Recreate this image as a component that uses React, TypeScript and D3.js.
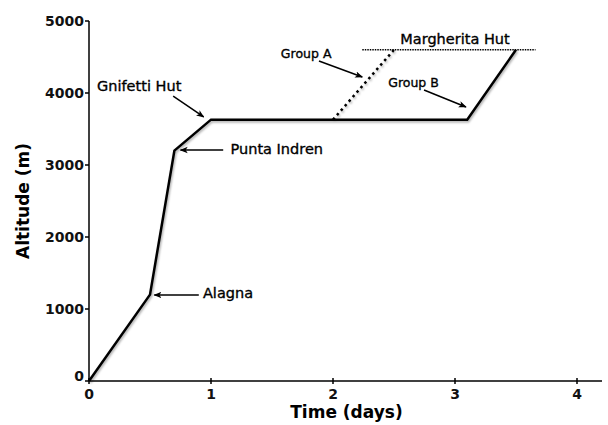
import React from 'react';
import * as d3 from 'd3';

// climb profile (days, metres)
const mainDays = [0, 0.5, 0.7, 1.0, 3.1, 3.5];
const mainAlt = [0, 1200, 3200, 3630, 3630, 4600];
// group A short-cut (dashed)
const groupADays = [2.0, 2.5];
const groupAAlt = [3630, 4600];
// Margherita Hut level (dotted)
const hutDays = [2.24, 3.66];
const hutAlt = [4600, 4600];

const xTicks = [0, 1, 2, 3, 4];
const yTicks = [0, 1000, 2000, 3000, 4000, 5000];

// labels: text anchor point and arrow from -> to (data units)
const labelText = ['Gnifetti Hut', 'Punta Indren', 'Alagna', 'Group A', 'Group B', 'Margherita Hut'];
const labelAt = [[0.066, 4097], [1.16, 3222], [0.934, 1222], [1.78, 4555], [2.66, 4153], [3.0, 4750]];
const labelAnchor = ['start', 'start', 'start', 'middle', 'middle', 'middle'];
const arrowFrom = [[0.69, 3958], [1.1, 3208], [0.9, 1194], [1.885, 4444], [2.746, 4042], null];
const arrowTo = [[0.94, 3667], [0.75, 3208], [0.535, 1194], [2.24, 4222], [3.09, 3806], null];

const W = 608, H = 425;
const margin = { left: 89, top: 21, right: 6, bottom: 44 };

export default function App() {
  const x = d3.scaleLinear().domain([0, 4]).range([margin.left, 577]);
  const y = d3.scaleLinear().domain([0, 5000]).range([H - margin.bottom, margin.top]);
  const xEnd = W - margin.right;

  const path = (days: number[], alt: number[]) =>
    d3.line<number>().x(d => x(d)).y((d, i) => y(alt[i]))(days) as string;

  const font = '"DejaVu Sans", Verdana, sans-serif';

  return (
    <svg width={W} height={H} style={{ position: 'absolute', left: 0, top: 0, background: '#fff' }}
      fontFamily={font}>
      <defs>
        <filter id="shadow" x="-10%" y="-10%" width="120%" height="120%">
          <feDropShadow dx="1" dy="1.5" stdDeviation="1" floodColor="#000" floodOpacity="0.35" />
        </filter>
        <marker id="arrow" viewBox="0 0 10 10" refX="9" refY="5" markerWidth="8" markerHeight="8"
          orient="auto" markerUnits="userSpaceOnUse">
          <path d="M0,1 L10,5 L0,9 L2.5,5 Z" fill="#000" />
        </marker>
      </defs>

      {/* axes */}
      <g stroke="#000" strokeWidth={1.5}>
        <line x1={x(0)} x2={x(0)} y1={y(0)} y2={y(5000)} />
        <line x1={x(0)} x2={xEnd} y1={y(0)} y2={y(0)} />
        {yTicks.map(t => (
          <line key={'yt' + t} x1={x(0) - 4} x2={x(0)} y1={y(t)} y2={y(t)} />
        ))}
        {xTicks.map(t => (
          <line key={'xt' + t} x1={x(t)} x2={x(t)} y1={y(0) - 3} y2={y(0) + 3} />
        ))}
      </g>
      <g fontSize={14} fontWeight="bold" fill="#111">
        {yTicks.map(t => (
          <text key={'yl' + t} x={x(0) - 5} y={y(t) + (t === 0 ? 0 : 5)} textAnchor="end">{t}</text>
        ))}
        {xTicks.map(t => (
          <text key={'xl' + t} x={x(t)} y={y(0) + 18} textAnchor="middle">{t}</text>
        ))}
      </g>
      <text x={(x(0) + xEnd) / 2 + 1} y={418} textAnchor="middle" fontSize={17} fontWeight="bold">Time (days)</text>
      <text transform={`translate(29,${(y(0) + y(5000)) / 2}) rotate(-90)`} textAnchor="middle"
        fontSize={17} fontWeight="bold">Altitude (m)</text>

      {/* data lines */}
      <g fill="none" stroke="#000" filter="url(#shadow)">
        <path d={path(mainDays, mainAlt)} strokeWidth={2.5} strokeLinejoin="miter" />
        <path d={path(groupADays, groupAAlt)} strokeWidth={2.5} strokeDasharray="2.5,3.5" />
      </g>
      <path d={path(hutDays, hutAlt)} fill="none" stroke="#000" strokeWidth={1.5} strokeDasharray="1.5,1" />

      {/* annotations */}
      <g fill="#000" stroke="#000" strokeWidth={0.35}>
        {labelText.map((t, i) => (
          <text key={t} x={x(labelAt[i][0])} y={y(labelAt[i][1]) + 5} textAnchor={labelAnchor[i]}
            fontSize={t.startsWith('Group') ? 12.5 : 14.5}>{t}</text>
        ))}
      </g>
      <g stroke="#000" strokeWidth={1.5}>
        {arrowFrom.map((f, i) => f && arrowTo[i] ? (
          <line key={'a' + i} x1={x(f[0])} y1={y(f[1])} x2={x(arrowTo[i]![0])} y2={y(arrowTo[i]![1])}
            markerEnd="url(#arrow)" />
        ) : null)}
      </g>
    </svg>
  );
}
